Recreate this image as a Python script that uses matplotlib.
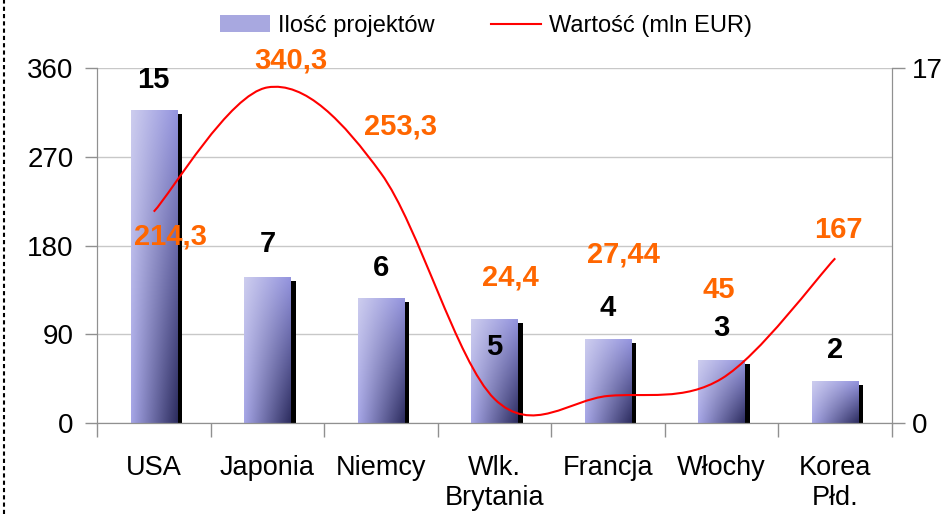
import numpy as np
import matplotlib
matplotlib.use("Agg")
import matplotlib.pyplot as plt
from matplotlib.path import Path
from matplotlib.patches import PathPatch, Rectangle
from matplotlib.lines import Line2D
from matplotlib.transforms import ScaledTranslation

plt.rcParams['font.family'] = ['Liberation Sans', 'DejaVu Sans']

categories = ["USA", "Japonia", "Niemcy", "Wlk.\nBrytania", "Francja", "Włochy", "Korea\nPłd."]
projects = [15, 7, 6, 5, 4, 3, 2]
value_mln = [214.3, 340.3, 253.3, 24.4, 27.44, 45, 167]
value_labels = ["214,3", "340,3", "253,3", "24,4", "27,44", "45", "167"]

# label offsets in pixels (dx, dy)
bar_lbl_off = [30, 33, 30, -28, 31, 32, 31]
line_lbl_off = [(17, -25), (23, 27), (20, 47), (16, 121), (15, 141), (-3, 89), (3, 28)]

fig = plt.figure(figsize=(9.52, 5.14), dpi=100)
ax = fig.add_axes([97/952, 91/514, 795/952, 355/514])
ax2 = ax.twinx()

x = np.arange(len(categories))
bw = 0.41

# bars live on ax (right scale 0-17), line on ax2 (left scale 0-360)
ax.set_xlim(-0.5, len(categories) - 0.5)
ax.set_ylim(0, 17)
ax2.set_ylim(0, 360)

# shadows
shift = ScaledTranslation(5/100, -4/100, fig.dpi_scale_trans)
ax.bar(x, projects, width=bw, color='black', zorder=1, transform=ax.transData + shift)

# gradient bars
grad = np.zeros((50, 50, 3))
u = np.linspace(0, 1, 50)[None, :]
v = np.linspace(0, 1, 50)[:, None]  # 0 top, 1 bottom
TL = np.array([205, 205, 238]) / 255
TR = np.array([148, 148, 222]) / 255
BL = np.array([165, 165, 230]) / 255
BR = np.array([45, 45, 95]) / 255
for c in range(3):
    grad[:, :, c] = ((1-u)*(1-v)*TL[c] + u*(1-v)*TR[c] + (1-u)*v*BL[c] + u*v*BR[c])
bars = ax.bar(x, projects, width=bw, color='none', zorder=2)
for b in bars:
    x0, y0 = b.get_x(), b.get_y()
    im = ax.imshow(grad, extent=[x0, x0 + b.get_width(), y0, y0 + b.get_height()],
                   aspect='auto', zorder=2, interpolation='bilinear')
    im.set_clip_path(b)

for xi, p, off in zip(x, projects, bar_lbl_off):
    ax.annotate(str(p), (xi, p), xytext=(0, off), textcoords='offset pixels',
                ha='center', va='center', fontsize=21, fontweight='bold', color='black', zorder=5)

# smoothed line (Catmull-Rom as Bezier, like Excel smoothing)
pts = np.column_stack([x, value_mln]).astype(float)
verts = [pts[0]]
codes = [Path.MOVETO]
n = len(pts)
for i in range(n - 1):
    p0 = pts[i - 1] if i > 0 else pts[i]
    p1 = pts[i]
    p2 = pts[i + 1]
    p3 = pts[i + 2] if i + 2 < n else pts[i + 1]
    c1 = p1 + (p2 - p0) / 6
    c2 = p2 - (p3 - p1) / 6
    verts += [c1, c2, p2]
    codes += [Path.CURVE4] * 3
ax2.add_patch(PathPatch(Path(verts, codes), facecolor='none', edgecolor='red', lw=1.5, zorder=3))

for xi, val, lbl, (dx, dy) in zip(x, value_mln, value_labels, line_lbl_off):
    ax2.annotate(lbl, (xi, val), xytext=(dx, dy), textcoords='offset pixels',
                 ha='center', va='center', fontsize=21, fontweight='bold', color='#FF6600', zorder=5)

# axes styling
for a in (ax, ax2):
    for s in a.spines.values():
        s.set_color('#909090')
    a.spines['top'].set_visible(False)

ax.yaxis.tick_right()
ax.set_yticks([0, 17])
ax.set_yticks(np.linspace(0, 17, 5)[1:-1], minor=True)
ax.tick_params(axis='y', which='major', length=9, width=1, color='#909090', labelsize=20, pad=5, direction='out')
ax.tick_params(axis='y', which='minor', length=0)
ax.grid(axis='y', which='both', color='#c8c8c8', lw=1)
ax.set_axisbelow(True)

ax2.yaxis.tick_left()
ax2.set_yticks([0, 90, 180, 270, 360])
ax2.tick_params(axis='y', length=9, width=1, color='#909090', labelsize=20, pad=8, direction='out')
ax2.tick_params(axis='y', which='minor', length=0)

ax.set_xticks(x)
ax.set_xticklabels(categories, linespacing=1.2)
ax.set_xticks(np.arange(-0.5, len(categories)), minor=True)
ax.tick_params(axis='x', which='major', length=0, labelsize=19.5, pad=23)
ax.tick_params(axis='x', which='minor', length=10, width=1, color='#909090', direction='out')

# legend
h1 = Rectangle((0, 0), 1, 1, facecolor='#a8a8e0', edgecolor='none')
h2 = Line2D([], [], color='red', lw=1.5)
fig.legend([h1, h2], ["Ilość projektów", "Wartość (mln EUR)"], loc='center',
           bbox_to_anchor=(486/952, 1 - 26/514), ncol=2, frameon=False, fontsize=17,
           handlelength=2.1, handletextpad=0.35, columnspacing=2.4)

# dotted left border
fig.add_artist(Line2D([4/952, 4/952], [0, 1], transform=fig.transFigure,
                      color='black', lw=1.5, ls=(0, (2, 1.5))))

fig.savefig("out.png", dpi=100)
